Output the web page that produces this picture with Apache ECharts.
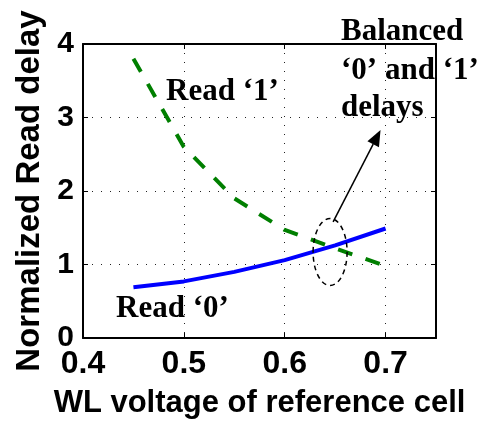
<!DOCTYPE html>
<html>
<head>
<meta charset="utf-8">
<script src="https://cdn.jsdelivr.net/npm/echarts@6/dist/echarts.min.js"></script>
<style>
html,body{margin:0;padding:0;background:#fff;}
#chart{width:487px;height:428px;}
</style>
</head>
<body>
<div id="chart"></div>
<script>
// ---- data ----
const xValues = [0.45, 0.5, 0.55, 0.6, 0.65, 0.7];
const read1Delay = [3.8, 2.6, 1.9, 1.47, 1.22, 0.98];
const read0Delay = [0.69, 0.77, 0.9, 1.06, 1.26, 1.49];
const xTickLabels = [0.4, 0.5, 0.6, 0.7];
const yTickLabels = [0, 1, 2, 3, 4];
const xTitle = 'WL voltage of reference cell';
const yTitle = 'Normalized Read delay';
// annotation anchors in data units
const ellipseCenter = [0.645, 1.17];
const arrowStart = [0.648, 1.58];
const arrowTip = [0.695, 2.83];

const chart = echarts.init(document.getElementById('chart'), null, {renderer: 'canvas'});

const sans = '"Liberation Sans", Arial, Helvetica, sans-serif';
const serif = '"Liberation Serif", "Times New Roman", serif';

const axisLineStyle = {color: '#000', width: 2};
const gridDots = {color: '#222', width: 1, type: [1, 8]};

chart.setOption({
  animation: false,
  backgroundColor: '#fff',
  grid: {left: 83, right: 51, top: 44, bottom: 90, containLabel: false},
  xAxis: [{
    type: 'value', min: 0.4, max: 0.75, interval: 0.1, position: 'bottom',
    axisLine: {show: true, onZero: false, lineStyle: axisLineStyle},
    axisTick: {show: true, inside: true, length: 5, lineStyle: {color: '#000', width: 1}},
    axisLabel: {
      customValues: xTickLabels,
      formatter: v => v.toFixed(1),
      fontSize: 32, fontWeight: 'bold', fontFamily: sans, color: '#000', margin: 10
    },
    splitLine: {show: true, lineStyle: gridDots},
    name: xTitle, nameLocation: 'middle', nameGap: 50,
    nameTextStyle: {fontSize: 31, fontWeight: 'bold', fontFamily: sans, color: '#000'}
  }, {
    type: 'value', min: 0.4, max: 0.75, interval: 0.1, position: 'top',
    axisLine: {show: true, onZero: false, lineStyle: axisLineStyle},
    axisTick: {show: true, inside: true, length: 5, lineStyle: {color: '#000', width: 1}},
    axisLabel: {show: false}, splitLine: {show: false}
  }],
  yAxis: [{
    type: 'value', min: 0, max: 4, interval: 1, position: 'left',
    axisLine: {show: true, onZero: false, lineStyle: axisLineStyle},
    axisTick: {show: true, inside: true, length: 5, lineStyle: {color: '#000', width: 1}},
    axisLabel: {
      customValues: yTickLabels,
      formatter: v => String(v),
      fontSize: 30, fontWeight: 'bold', fontFamily: sans, color: '#000', margin: 9
    },
    splitLine: {show: true, lineStyle: gridDots},
    name: yTitle, nameLocation: 'middle', nameGap: 36, nameRotate: 90,
    nameTextStyle: {fontSize: 33, fontWeight: 'bold', fontFamily: sans, color: '#000'}
  }, {
    type: 'value', min: 0, max: 4, interval: 1, position: 'right',
    axisLine: {show: true, onZero: false, lineStyle: axisLineStyle},
    axisTick: {show: true, inside: true, length: 5, lineStyle: {color: '#000', width: 1}},
    axisLabel: {show: false}, splitLine: {show: false}
  }],
  series: [{
    name: 'Read ‘1’', type: 'line', xAxisIndex: 0, yAxisIndex: 0,
    data: xValues.map((x, i) => [x, read1Delay[i]]),
    showSymbol: false, symbol: 'none', smooth: false,
    lineStyle: {color: '#007f00', width: 4, type: [15, 14], cap: 'butt'},
    z: 3
  }, {
    name: 'Read ‘0’', type: 'line', xAxisIndex: 0, yAxisIndex: 0,
    data: xValues.map((x, i) => [x, read0Delay[i]]),
    showSymbol: false, symbol: 'none', smooth: false,
    lineStyle: {color: '#0000ff', width: 4},
    z: 4
  }]
});

function px(p) { return chart.convertToPixel({xAxisIndex: 0, yAxisIndex: 0}, p); }
const c = px(ellipseCenter);
const s = px(arrowStart);
const t = px(arrowTip);
const dx = t[0] - s[0], dy = t[1] - s[1];
const len = Math.sqrt(dx * dx + dy * dy);
const ux = dx / len, uy = dy / len;
const headLen = 16, headHalf = 6.5;
const bx = t[0] - ux * headLen, by = t[1] - uy * headLen;
const head = [
  [t[0], t[1]],
  [bx - uy * headHalf, by + ux * headHalf],
  [bx + uy * headHalf, by - ux * headHalf]
];

const annFont = 'bold 31px ' + serif;
chart.setOption({
  graphic: [
    {type: 'ellipse', shape: {cx: c[0], cy: c[1], rx: 17, ry: 33.5},
     style: {fill: null, stroke: '#000', lineWidth: 1.5, lineDash: [5, 4]}, z: 10},
    {type: 'line', shape: {x1: s[0], y1: s[1], x2: bx, y2: by},
     style: {stroke: '#000', lineWidth: 1.5}, z: 10},
    {type: 'polygon', shape: {points: head}, style: {fill: '#000'}, z: 10},
    {type: 'text', x: 166, y: 92, style: {text: 'Read ‘1’', font: annFont, fill: '#000', align: 'left', verticalAlign: 'middle'}, z: 11},
    {type: 'text', x: 116, y: 309, style: {text: 'Read ‘0’', font: annFont, fill: '#000', align: 'left', verticalAlign: 'middle'}, z: 11},
    {type: 'text', x: 341, y: 32, style: {text: 'Balanced', font: annFont, fill: '#000', align: 'left', verticalAlign: 'middle'}, z: 11},
    {type: 'text', x: 341, y: 71, style: {text: '‘0’ and ‘1’', font: annFont, fill: '#000', align: 'left', verticalAlign: 'middle'}, z: 11},
    {type: 'text', x: 341, y: 108, style: {text: 'delays', font: annFont, fill: '#000', align: 'left', verticalAlign: 'middle'}, z: 11}
  ]
});
</script>
</body>
</html>
